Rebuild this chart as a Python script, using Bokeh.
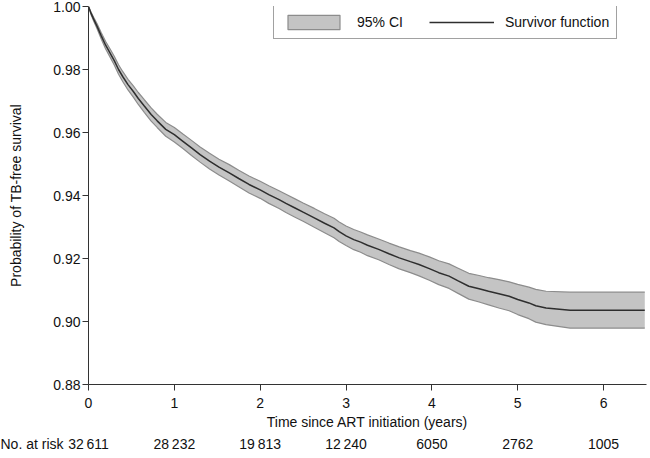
from bokeh.plotting import figure
from bokeh.layouts import column
from bokeh.models import (ColumnDataSource, FixedTicker, Legend, LegendItem, Range1d,
                          NumeralTickFormatter)
from bokeh.core.properties import value
from bokeh.embed import file_html
from bokeh.resources import INLINE

# ---- data ----
time = [0.00, 0.03, 0.06, 0.10, 0.15, 0.20, 0.25, 0.30, 0.35, 0.40, 0.46, 0.52, 0.58, 0.65,
        0.73, 0.80, 0.90, 1.00, 1.10, 1.20, 1.30, 1.41, 1.52, 1.64, 1.75, 1.87, 2.00, 2.10,
        2.22, 2.30, 2.40, 2.50, 2.63, 2.75, 2.86, 2.92, 3.00, 3.09, 3.17, 3.25, 3.38, 3.50,
        3.62, 3.75, 3.85, 3.97, 4.08, 4.20, 4.30, 4.43, 4.55, 4.66, 4.78, 4.90, 5.00, 5.13,
        5.21, 5.33, 5.61, 6.48]
survival = [1.0000, 0.9978, 0.9960, 0.9937, 0.9906, 0.9877, 0.9853, 0.9828, 0.9800, 0.9777,
            0.9752, 0.9731, 0.9708, 0.9684, 0.9657, 0.9637, 0.9610, 0.9593, 0.9572, 0.9551,
            0.9530, 0.9509, 0.9490, 0.9472, 0.9454, 0.9435, 0.9418, 0.9403, 0.9387, 0.9375,
            0.9361, 0.9347, 0.9329, 0.9312, 0.9297, 0.9285, 0.9272, 0.9260, 0.9252, 0.9242,
            0.9229, 0.9215, 0.9202, 0.9190, 0.9181, 0.9168, 0.9155, 0.9144, 0.9130, 0.9112,
            0.9104, 0.9096, 0.9088, 0.9080, 0.9070, 0.9059, 0.9050, 0.9043, 0.9036, 0.9036]
ci_upper = [1.0000, 0.9982, 0.9966, 0.9945, 0.9916, 0.9889, 0.9866, 0.9842, 0.9815, 0.9793,
            0.9769, 0.9749, 0.9727, 0.9704, 0.9678, 0.9658, 0.9632, 0.9616, 0.9595, 0.9575,
            0.9554, 0.9534, 0.9515, 0.9498, 0.9480, 0.9462, 0.9445, 0.9431, 0.9415, 0.9404,
            0.9390, 0.9376, 0.9359, 0.9342, 0.9328, 0.9316, 0.9303, 0.9292, 0.9284, 0.9275,
            0.9262, 0.9249, 0.9237, 0.9225, 0.9217, 0.9205, 0.9193, 0.9183, 0.9170, 0.9153,
            0.9146, 0.9139, 0.9133, 0.9126, 0.9118, 0.9109, 0.9102, 0.9096, 0.9093, 0.9093]
ci_lower = [1.0000, 0.9974, 0.9954, 0.9929, 0.9896, 0.9865, 0.9840, 0.9814, 0.9785, 0.9761,
            0.9735, 0.9713, 0.9689, 0.9664, 0.9636, 0.9616, 0.9588, 0.9570, 0.9549, 0.9527,
            0.9506, 0.9484, 0.9465, 0.9446, 0.9428, 0.9408, 0.9391, 0.9375, 0.9359, 0.9346,
            0.9332, 0.9318, 0.9299, 0.9282, 0.9266, 0.9254, 0.9241, 0.9228, 0.9220, 0.9209,
            0.9196, 0.9181, 0.9167, 0.9155, 0.9145, 0.9131, 0.9117, 0.9105, 0.9090, 0.9071,
            0.9062, 0.9053, 0.9043, 0.9034, 0.9022, 0.9009, 0.8998, 0.8990, 0.8979, 0.8979]

x_ticks = [0, 1, 2, 3, 4, 5, 6]
y_ticks = [0.88, 0.90, 0.92, 0.94, 0.96, 0.98, 1.00]
risk_times = [0, 1, 2, 3, 4, 5, 6]
risk_labels = ["32\u2009611", "28\u2009232", "19\u2009813", "12\u2009240", "6050", "2762", "1005"]
risk_title = "No. at risk"

FONT = "Liberation Sans"
BAND_FILL = "#c4c4c4"
BAND_EDGE = "#8c8c8c"
LINE_COL = "#2e2e2e"
AXIS_COL = "#333333"
TXT = "#111111"

W = 648
LEFT, RIGHT = 88, 2
X_END = 6.5
PX = (W - LEFT - RIGHT) / X_END   # pixels per year, shared by both panels

src = ColumnDataSource(dict(t=time, s=survival, lo=ci_lower, hi=ci_upper))

p = figure(width=W, height=434, output_backend="svg", toolbar_location=None,
           x_range=Range1d(0, X_END), y_range=Range1d(0.88, 1.0),
           min_border_left=LEFT, min_border_right=RIGHT, min_border_top=6, min_border_bottom=50,
           background_fill_color="white", border_fill_color="white")
p.outline_line_color = None
p.grid.visible = False

p.varea(x="t", y1="lo", y2="hi", source=src, fill_color=BAND_FILL)
p.line(x="t", y="hi", source=src, line_color=BAND_EDGE, line_width=1.2)
p.line(x="t", y="lo", source=src, line_color=BAND_EDGE, line_width=1.2)
line_r = p.line(x="t", y="s", source=src, line_color=LINE_COL, line_width=1.5)

# hidden renderer that only supplies the legend swatch (filled box with outline)
swatch = p.quad(left="t", right="t", top="hi", bottom="lo", source=src,
                fill_color=BAND_FILL, line_color=BAND_EDGE, line_width=1.2, visible=False)

for ax in (p.xaxis[0], p.yaxis[0]):
    ax.axis_line_color = AXIS_COL
    ax.major_tick_line_color = AXIS_COL
    ax.minor_tick_line_color = None
    ax.major_tick_in = 0
    ax.major_tick_out = 6
    ax.major_label_text_font = FONT
    ax.major_label_text_font_size = "14px"
    ax.major_label_text_color = TXT
    ax.axis_label_text_font = FONT
    ax.axis_label_text_font_size = "14px"
    ax.axis_label_text_font_style = "normal"
    ax.axis_label_text_color = TXT

p.xaxis[0].ticker = FixedTicker(ticks=x_ticks)
p.xaxis[0].axis_label = "Time since ART initiation (years)"
p.xaxis[0].major_label_standoff = 7
p.xaxis[0].axis_label_standoff = 3

p.yaxis[0].ticker = FixedTicker(ticks=y_ticks)
p.yaxis[0].formatter = NumeralTickFormatter(format="0.00")
p.yaxis[0].axis_label = "Probability of TB-free survival"
p.yaxis[0].major_label_standoff = 2
p.yaxis[0].axis_label_standoff = 26

legend = Legend(items=[LegendItem(label="95% CI", renderers=[swatch]),
                       LegendItem(label="Survivor function", renderers=[line_r])],
                orientation="horizontal", location=(185, 345),
                glyph_width=65, glyph_height=18, label_standoff=11, spacing=26,
                padding=7, margin=0,
                label_text_font=FONT, label_text_font_size="14px", label_text_color=TXT,
                border_line_color="#444444", border_line_width=1,
                background_fill_color="white", background_fill_alpha=1.0,
                inactive_fill_alpha=0.0)
p.add_layout(legend)

# ---- number-at-risk row: full-width frame with the same pixels-per-year scale ----
r = figure(width=W, height=18, output_backend="svg", toolbar_location=None,
           x_range=Range1d(-LEFT / PX, X_END + RIGHT / PX), y_range=Range1d(-1, 1),
           min_border=0, x_axis_location=None, y_axis_location=None,
           background_fill_color="white", border_fill_color="white")
r.outline_line_color = None
r.grid.visible = False
for fig in (p, r):
    if "frame_align" in fig.properties():
        fig.frame_align = False
r.text(x=risk_times, y=[0] * len(risk_times), text=risk_labels,
       text_font=value(FONT), text_font_size=value("14px"), text_color=TXT,
       text_align="center", text_baseline="middle")
r.text(x=[-LEFT / PX], y=[0], text=[risk_title],
       text_font=value(FONT), text_font_size=value("14px"), text_color=TXT,
       text_align="left", text_baseline="middle")

layout = column(p, r, spacing=0)
open("out.html", "w").write(file_html(layout, INLINE))
